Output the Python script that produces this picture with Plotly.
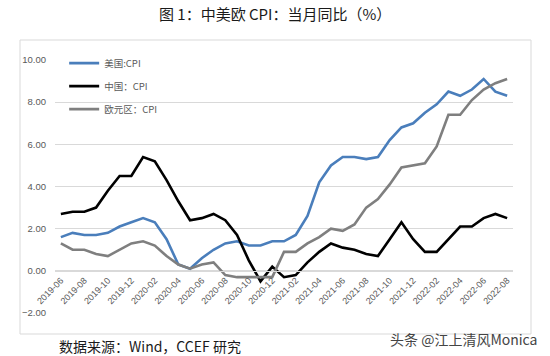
import plotly.graph_objects as go

months = ["2019-06","2019-07","2019-08","2019-09","2019-10","2019-11","2019-12",
          "2020-01","2020-02","2020-03","2020-04","2020-05","2020-06","2020-07","2020-08","2020-09","2020-10","2020-11","2020-12",
          "2021-01","2021-02","2021-03","2021-04","2021-05","2021-06","2021-07","2021-08","2021-09","2021-10","2021-11","2021-12",
          "2022-01","2022-02","2022-03","2022-04","2022-05","2022-06","2022-07","2022-08"]

us_cpi = [1.6,1.8,1.7,1.7,1.8,2.1,2.3,
          2.5,2.3,1.5,0.3,0.1,0.6,1.0,1.3,1.4,1.2,1.2,1.4,
          1.4,1.7,2.6,4.2,5.0,5.4,5.4,5.3,5.4,6.2,6.8,7.0,
          7.5,7.9,8.5,8.3,8.6,9.1,8.5,8.3]

china_cpi = [2.7,2.8,2.8,3.0,3.8,4.5,4.5,
             5.4,5.2,4.3,3.3,2.4,2.5,2.7,2.4,1.7,0.5,-0.5,0.2,
             -0.3,-0.2,0.4,0.9,1.3,1.1,1.0,0.8,0.7,1.5,2.3,1.5,
             0.9,0.9,1.5,2.1,2.1,2.5,2.7,2.5]

euro_cpi = [1.3,1.0,1.0,0.8,0.7,1.0,1.3,
            1.4,1.2,0.7,0.3,0.1,0.3,0.4,-0.2,-0.3,-0.3,-0.3,-0.3,
            0.9,0.9,1.3,1.6,2.0,1.9,2.2,3.0,3.4,4.1,4.9,5.0,
            5.1,5.9,7.4,7.4,8.1,8.6,8.9,9.1]

series_names = ["美国:CPI", "中国：CPI", "欧元区：CPI"]
tick_labels = months[::2]
y_ticks = [-2, 0, 2, 4, 6, 8, 10]

title_text = "图 1：中美欧 CPI：当月同比（%）"
source_text = "数据来源：Wind，CCEF 研究"
watermark_text = "头条 @江上清风Monica"

colors = ["#4a7ebb", "#000000", "#7f7f7f"]
FONT = "Noto Sans CJK SC"

fig = go.Figure()
for i, (name, vals) in enumerate(zip(series_names, [us_cpi, china_cpi, euro_cpi])):
    fig.add_trace(go.Scatter(x=months, y=vals, mode="lines", name=name,
                             line=dict(color=colors[i], width=2.6),
                             legendgroup=f"g{i}"))

fig.update_layout(
    width=550, height=356,
    margin=dict(l=55, r=37, t=60, b=43),
    paper_bgcolor="white", plot_bgcolor="white",
    font=dict(family=FONT, color="#595959", size=9),
    showlegend=True,
    legend=dict(x=0.02, y=1.045, xanchor="left", yanchor="top",
                bgcolor="rgba(0,0,0,0)", font=dict(size=9.5, color="#595959", family=FONT),
                tracegroupgap=4, itemwidth=30),
    xaxis=dict(type="category", range=[-0.5, len(months) - 0.5],
               tickmode="array", tickvals=tick_labels, ticktext=tick_labels,
               tickangle=-45, showgrid=False, showline=True, linecolor="#d9d9d9",
               linewidth=1, ticks="", anchor="free", position=2/12,
               tickfont=dict(size=9, color="#595959", family="Liberation Sans")),
    yaxis=dict(range=[-2, 10], tickvals=y_ticks, tickformat=".2f",
               showgrid=True, gridcolor="#d9d9d9", gridwidth=1, zeroline=False,
               ticks="", ticklabelstandoff=8,
               tickfont=dict(size=9.5, color="#595959", family="Liberation Sans")),
)

# outer chart border
fig.add_shape(type="rect", xref="paper", yref="paper",
              x0=(20 - 55) / 458, x1=(531 - 55) / 458,
              y0=(313 - 334) / 253, y1=(313 - 40) / 253,
              line=dict(color="#d9d9d9", width=1), fillcolor="rgba(0,0,0,0)", layer="below")

fig.add_annotation(text=title_text, xref="paper", yref="paper",
                   x=(275 - 55) / 458, y=(313 - 14) / 253, xanchor="center", yanchor="middle",
                   showarrow=False, font=dict(size=15, color="#1a1a1a", family=FONT))
fig.add_annotation(text=source_text, xref="paper", yref="paper",
                   x=(57 - 55) / 458, y=(313 - 346) / 253, xanchor="left", yanchor="middle",
                   showarrow=False, font=dict(size=14, color="#1a1a1a", family=FONT))
fig.add_annotation(text=watermark_text, xref="paper", yref="paper",
                   x=(540 - 55) / 458, y=(313 - 339) / 253, xanchor="right", yanchor="middle",
                   showarrow=False, font=dict(size=14, color="#444444", family=FONT))

fig.write_html("out.html", config={"displayModeBar": False},
               post_script="document.body.style.margin='0';document.body.style.overflow='hidden';")
